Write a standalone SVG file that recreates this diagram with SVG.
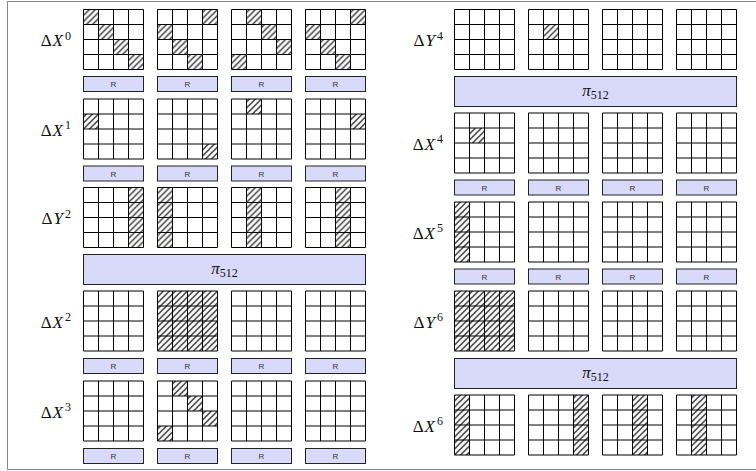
<svg xmlns="http://www.w3.org/2000/svg" xmlns:xlink="http://www.w3.org/1999/xlink" width="756" height="471" viewBox="0 0 756 471">
<style>
.gl{fill:none;stroke:#000;stroke-width:1}
.box{fill:#d9d9fa;stroke:#222;stroke-width:1}
.rt{font-family:"Liberation Sans",Arial,sans-serif;font-size:8px;fill:#333;text-anchor:middle}
.lab{font-family:"Liberation Serif","Times New Roman",serif;font-size:17px;fill:#111;text-anchor:end}
.pi{font-family:"Liberation Serif","Times New Roman",serif;font-size:17px;fill:#111;text-anchor:middle}
.h{fill:url(#hatch)}
</style>
<defs>
<pattern id="hatch" patternUnits="userSpaceOnUse" width="6" height="6">
<path d="M0 6L6 0M-1 1L1 -1M5 7L7 5" stroke="#000" stroke-width="1.2"/>
</pattern>
<path id="g" class="gl" d="M0 0h60v60H0zM15 0v60M30 0v60M45 0v60M0 15h60M0 30h60M0 45h60"/>
</defs>
<rect x="7.5" y="1.5" width="760" height="468" fill="#fff" stroke="#888" stroke-width="1"/>

<!-- LEFT COLUMN -->
<g id="labels-left">
<text class="lab" x="71" y="46">Δ<tspan font-style="italic" dx="1">X</tspan><tspan font-size="12" dx="2" dy="-6.5">0</tspan></text>
<text class="lab" x="71" y="135.5">Δ<tspan font-style="italic" dx="1">X</tspan><tspan font-size="12" dx="2" dy="-6.5">1</tspan></text>
<text class="lab" x="71" y="224">Δ<tspan font-style="italic" dx="1">Y</tspan><tspan font-size="12" dx="2" dy="-6.5">2</tspan></text>
<text class="lab" x="71" y="327.5">Δ<tspan font-style="italic" dx="1">X</tspan><tspan font-size="12" dx="2" dy="-6.5">2</tspan></text>
<text class="lab" x="71" y="417.5">Δ<tspan font-style="italic" dx="1">X</tspan><tspan font-size="12" dx="2" dy="-6.5">3</tspan></text>
</g>

<!-- Row dX0 -->
<g id="dX0-1" transform="translate(83.5,9.5)"><rect class="h" x="0" y="0" width="15" height="15"/><rect class="h" x="15" y="15" width="15" height="15"/><rect class="h" x="30" y="30" width="15" height="15"/><rect class="h" x="45" y="45" width="15" height="15"/><use xlink:href="#g"/></g>
<g id="dX0-2" transform="translate(157.5,9.5)"><rect class="h" x="45" y="0" width="15" height="15"/><rect class="h" x="0" y="15" width="15" height="15"/><rect class="h" x="15" y="30" width="15" height="15"/><rect class="h" x="30" y="45" width="15" height="15"/><use xlink:href="#g"/></g>
<g id="dX0-3" transform="translate(231.5,9.5)"><rect class="h" x="15" y="0" width="15" height="15"/><rect class="h" x="30" y="15" width="15" height="15"/><rect class="h" x="45" y="30" width="15" height="15"/><rect class="h" x="0" y="45" width="15" height="15"/><use xlink:href="#g"/></g>
<g id="dX0-4" transform="translate(305.5,9.5)"><rect class="h" x="45" y="0" width="15" height="15"/><rect class="h" x="0" y="15" width="15" height="15"/><rect class="h" x="15" y="30" width="15" height="15"/><rect class="h" x="30" y="45" width="15" height="15"/><use xlink:href="#g"/></g>
<g id="R0-1"><rect class="box" x="83.5" y="76.5" width="60" height="15"/><text class="rt" x="113.5" y="87">R</text></g>
<g id="R0-2"><rect class="box" x="157.5" y="76.5" width="60" height="15"/><text class="rt" x="187.5" y="87">R</text></g>
<g id="R0-3"><rect class="box" x="231.5" y="76.5" width="60" height="15"/><text class="rt" x="261.5" y="87">R</text></g>
<g id="R0-4"><rect class="box" x="305.5" y="76.5" width="60" height="15"/><text class="rt" x="335.5" y="87">R</text></g>

<!-- Row dX1 -->
<g id="dX1-1" transform="translate(83.5,99)"><rect class="h" x="0" y="15" width="15" height="15"/><use xlink:href="#g"/></g>
<g id="dX1-2" transform="translate(157.5,99)"><rect class="h" x="45" y="45" width="15" height="15"/><use xlink:href="#g"/></g>
<g id="dX1-3" transform="translate(231.5,99)"><rect class="h" x="15" y="0" width="15" height="15"/><use xlink:href="#g"/></g>
<g id="dX1-4" transform="translate(305.5,99)"><rect class="h" x="45" y="15" width="15" height="15"/><use xlink:href="#g"/></g>
<g id="R1-1"><rect class="box" x="83.5" y="166" width="60" height="15"/><text class="rt" x="113.5" y="176.5">R</text></g>
<g id="R1-2"><rect class="box" x="157.5" y="166" width="60" height="15"/><text class="rt" x="187.5" y="176.5">R</text></g>
<g id="R1-3"><rect class="box" x="231.5" y="166" width="60" height="15"/><text class="rt" x="261.5" y="176.5">R</text></g>
<g id="R1-4"><rect class="box" x="305.5" y="166" width="60" height="15"/><text class="rt" x="335.5" y="176.5">R</text></g>

<!-- Row dY2 -->
<g id="dY2-1" transform="translate(83.5,187.5)"><rect class="h" x="45" y="0" width="15" height="60"/><use xlink:href="#g"/></g>
<g id="dY2-2" transform="translate(157.5,187.5)"><rect class="h" x="0" y="0" width="15" height="60"/><use xlink:href="#g"/></g>
<g id="dY2-3" transform="translate(231.5,187.5)"><rect class="h" x="15" y="0" width="15" height="60"/><use xlink:href="#g"/></g>
<g id="dY2-4" transform="translate(305.5,187.5)"><rect class="h" x="30" y="0" width="15" height="60"/><use xlink:href="#g"/></g>
<g id="pi-left-1"><rect class="box" x="83.5" y="254.5" width="282" height="30"/><text class="pi" x="224.5" y="274"><tspan font-style="italic">π</tspan><tspan font-size="12" dy="3">512</tspan></text></g>

<!-- Row dX2 -->
<g id="dX2-1" transform="translate(83.5,291)"><use xlink:href="#g"/></g>
<g id="dX2-2" transform="translate(157.5,291)"><rect class="h" x="0" y="0" width="60" height="60"/><use xlink:href="#g"/></g>
<g id="dX2-3" transform="translate(231.5,291)"><use xlink:href="#g"/></g>
<g id="dX2-4" transform="translate(305.5,291)"><use xlink:href="#g"/></g>
<g id="R2-1"><rect class="box" x="83.5" y="358.5" width="60" height="15"/><text class="rt" x="113.5" y="369">R</text></g>
<g id="R2-2"><rect class="box" x="157.5" y="358.5" width="60" height="15"/><text class="rt" x="187.5" y="369">R</text></g>
<g id="R2-3"><rect class="box" x="231.5" y="358.5" width="60" height="15"/><text class="rt" x="261.5" y="369">R</text></g>
<g id="R2-4"><rect class="box" x="305.5" y="358.5" width="60" height="15"/><text class="rt" x="335.5" y="369">R</text></g>

<!-- Row dX3 -->
<g id="dX3-1" transform="translate(83.5,381)"><use xlink:href="#g"/></g>
<g id="dX3-2" transform="translate(157.5,381)"><rect class="h" x="15" y="0" width="15" height="15"/><rect class="h" x="30" y="15" width="15" height="15"/><rect class="h" x="45" y="30" width="15" height="15"/><rect class="h" x="0" y="45" width="15" height="15"/><use xlink:href="#g"/></g>
<g id="dX3-3" transform="translate(231.5,381)"><use xlink:href="#g"/></g>
<g id="dX3-4" transform="translate(305.5,381)"><use xlink:href="#g"/></g>
<g id="R3-1"><rect class="box" x="83.5" y="448.5" width="60" height="15"/><text class="rt" x="113.5" y="459">R</text></g>
<g id="R3-2"><rect class="box" x="157.5" y="448.5" width="60" height="15"/><text class="rt" x="187.5" y="459">R</text></g>
<g id="R3-3"><rect class="box" x="231.5" y="448.5" width="60" height="15"/><text class="rt" x="261.5" y="459">R</text></g>
<g id="R3-4"><rect class="box" x="305.5" y="448.5" width="60" height="15"/><text class="rt" x="335.5" y="459">R</text></g>

<!-- RIGHT COLUMN -->
<g id="labels-right">
<text class="lab" x="443" y="46">Δ<tspan font-style="italic" dx="1">Y</tspan><tspan font-size="12" dx="2" dy="-6.5">4</tspan></text>
<text class="lab" x="443" y="149.5">Δ<tspan font-style="italic" dx="1">X</tspan><tspan font-size="12" dx="2" dy="-6.5">4</tspan></text>
<text class="lab" x="443" y="238.5">Δ<tspan font-style="italic" dx="1">X</tspan><tspan font-size="12" dx="2" dy="-6.5">5</tspan></text>
<text class="lab" x="443" y="327.5">Δ<tspan font-style="italic" dx="1">Y</tspan><tspan font-size="12" dx="2" dy="-6.5">6</tspan></text>
<text class="lab" x="443" y="431.5">Δ<tspan font-style="italic" dx="1">X</tspan><tspan font-size="12" dx="2" dy="-6.5">6</tspan></text>
</g>

<!-- Row dY4 -->
<g id="dY4-1" transform="translate(454.5,9.5)"><use xlink:href="#g"/></g>
<g id="dY4-2" transform="translate(528.5,9.5)"><rect class="h" x="15" y="15" width="15" height="15"/><use xlink:href="#g"/></g>
<g id="dY4-3" transform="translate(602.5,9.5)"><use xlink:href="#g"/></g>
<g id="dY4-4" transform="translate(676.5,9.5)"><use xlink:href="#g"/></g>
<g id="pi-right-1"><rect class="box" x="454.5" y="76.5" width="282" height="30"/><text class="pi" x="595.5" y="96"><tspan font-style="italic">π</tspan><tspan font-size="12" dy="3">512</tspan></text></g>

<!-- Row dX4 -->
<g id="dX4-1" transform="translate(454.5,113)"><rect class="h" x="15" y="15" width="15" height="15"/><use xlink:href="#g"/></g>
<g id="dX4-2" transform="translate(528.5,113)"><use xlink:href="#g"/></g>
<g id="dX4-3" transform="translate(602.5,113)"><use xlink:href="#g"/></g>
<g id="dX4-4" transform="translate(676.5,113)"><use xlink:href="#g"/></g>
<g id="R4-1"><rect class="box" x="454.5" y="180" width="60" height="15"/><text class="rt" x="484.5" y="190.5">R</text></g>
<g id="R4-2"><rect class="box" x="528.5" y="180" width="60" height="15"/><text class="rt" x="558.5" y="190.5">R</text></g>
<g id="R4-3"><rect class="box" x="602.5" y="180" width="60" height="15"/><text class="rt" x="632.5" y="190.5">R</text></g>
<g id="R4-4"><rect class="box" x="676.5" y="180" width="60" height="15"/><text class="rt" x="706.5" y="190.5">R</text></g>

<!-- Row dX5 -->
<g id="dX5-1" transform="translate(454.5,202)"><rect class="h" x="0" y="0" width="15" height="60"/><use xlink:href="#g"/></g>
<g id="dX5-2" transform="translate(528.5,202)"><use xlink:href="#g"/></g>
<g id="dX5-3" transform="translate(602.5,202)"><use xlink:href="#g"/></g>
<g id="dX5-4" transform="translate(676.5,202)"><use xlink:href="#g"/></g>
<g id="R5-1"><rect class="box" x="454.5" y="269" width="60" height="15"/><text class="rt" x="484.5" y="279.5">R</text></g>
<g id="R5-2"><rect class="box" x="528.5" y="269" width="60" height="15"/><text class="rt" x="558.5" y="279.5">R</text></g>
<g id="R5-3"><rect class="box" x="602.5" y="269" width="60" height="15"/><text class="rt" x="632.5" y="279.5">R</text></g>
<g id="R5-4"><rect class="box" x="676.5" y="269" width="60" height="15"/><text class="rt" x="706.5" y="279.5">R</text></g>

<!-- Row dY6 -->
<g id="dY6-1" transform="translate(454.5,291)"><rect class="h" x="0" y="0" width="60" height="60"/><use xlink:href="#g"/></g>
<g id="dY6-2" transform="translate(528.5,291)"><use xlink:href="#g"/></g>
<g id="dY6-3" transform="translate(602.5,291)"><use xlink:href="#g"/></g>
<g id="dY6-4" transform="translate(676.5,291)"><use xlink:href="#g"/></g>
<g id="pi-right-2"><rect class="box" x="454.5" y="358.5" width="282" height="30"/><text class="pi" x="595.5" y="378"><tspan font-style="italic">π</tspan><tspan font-size="12" dy="3">512</tspan></text></g>

<!-- Row dX6 -->
<g id="dX6-1" transform="translate(454.5,395)"><rect class="h" x="0" y="0" width="15" height="60"/><use xlink:href="#g"/></g>
<g id="dX6-2" transform="translate(528.5,395)"><rect class="h" x="45" y="0" width="15" height="60"/><use xlink:href="#g"/></g>
<g id="dX6-3" transform="translate(602.5,395)"><rect class="h" x="30" y="0" width="15" height="60"/><use xlink:href="#g"/></g>
<g id="dX6-4" transform="translate(676.5,395)"><rect class="h" x="15" y="0" width="15" height="60"/><use xlink:href="#g"/></g>

<g id="connectors"/>
</svg>
